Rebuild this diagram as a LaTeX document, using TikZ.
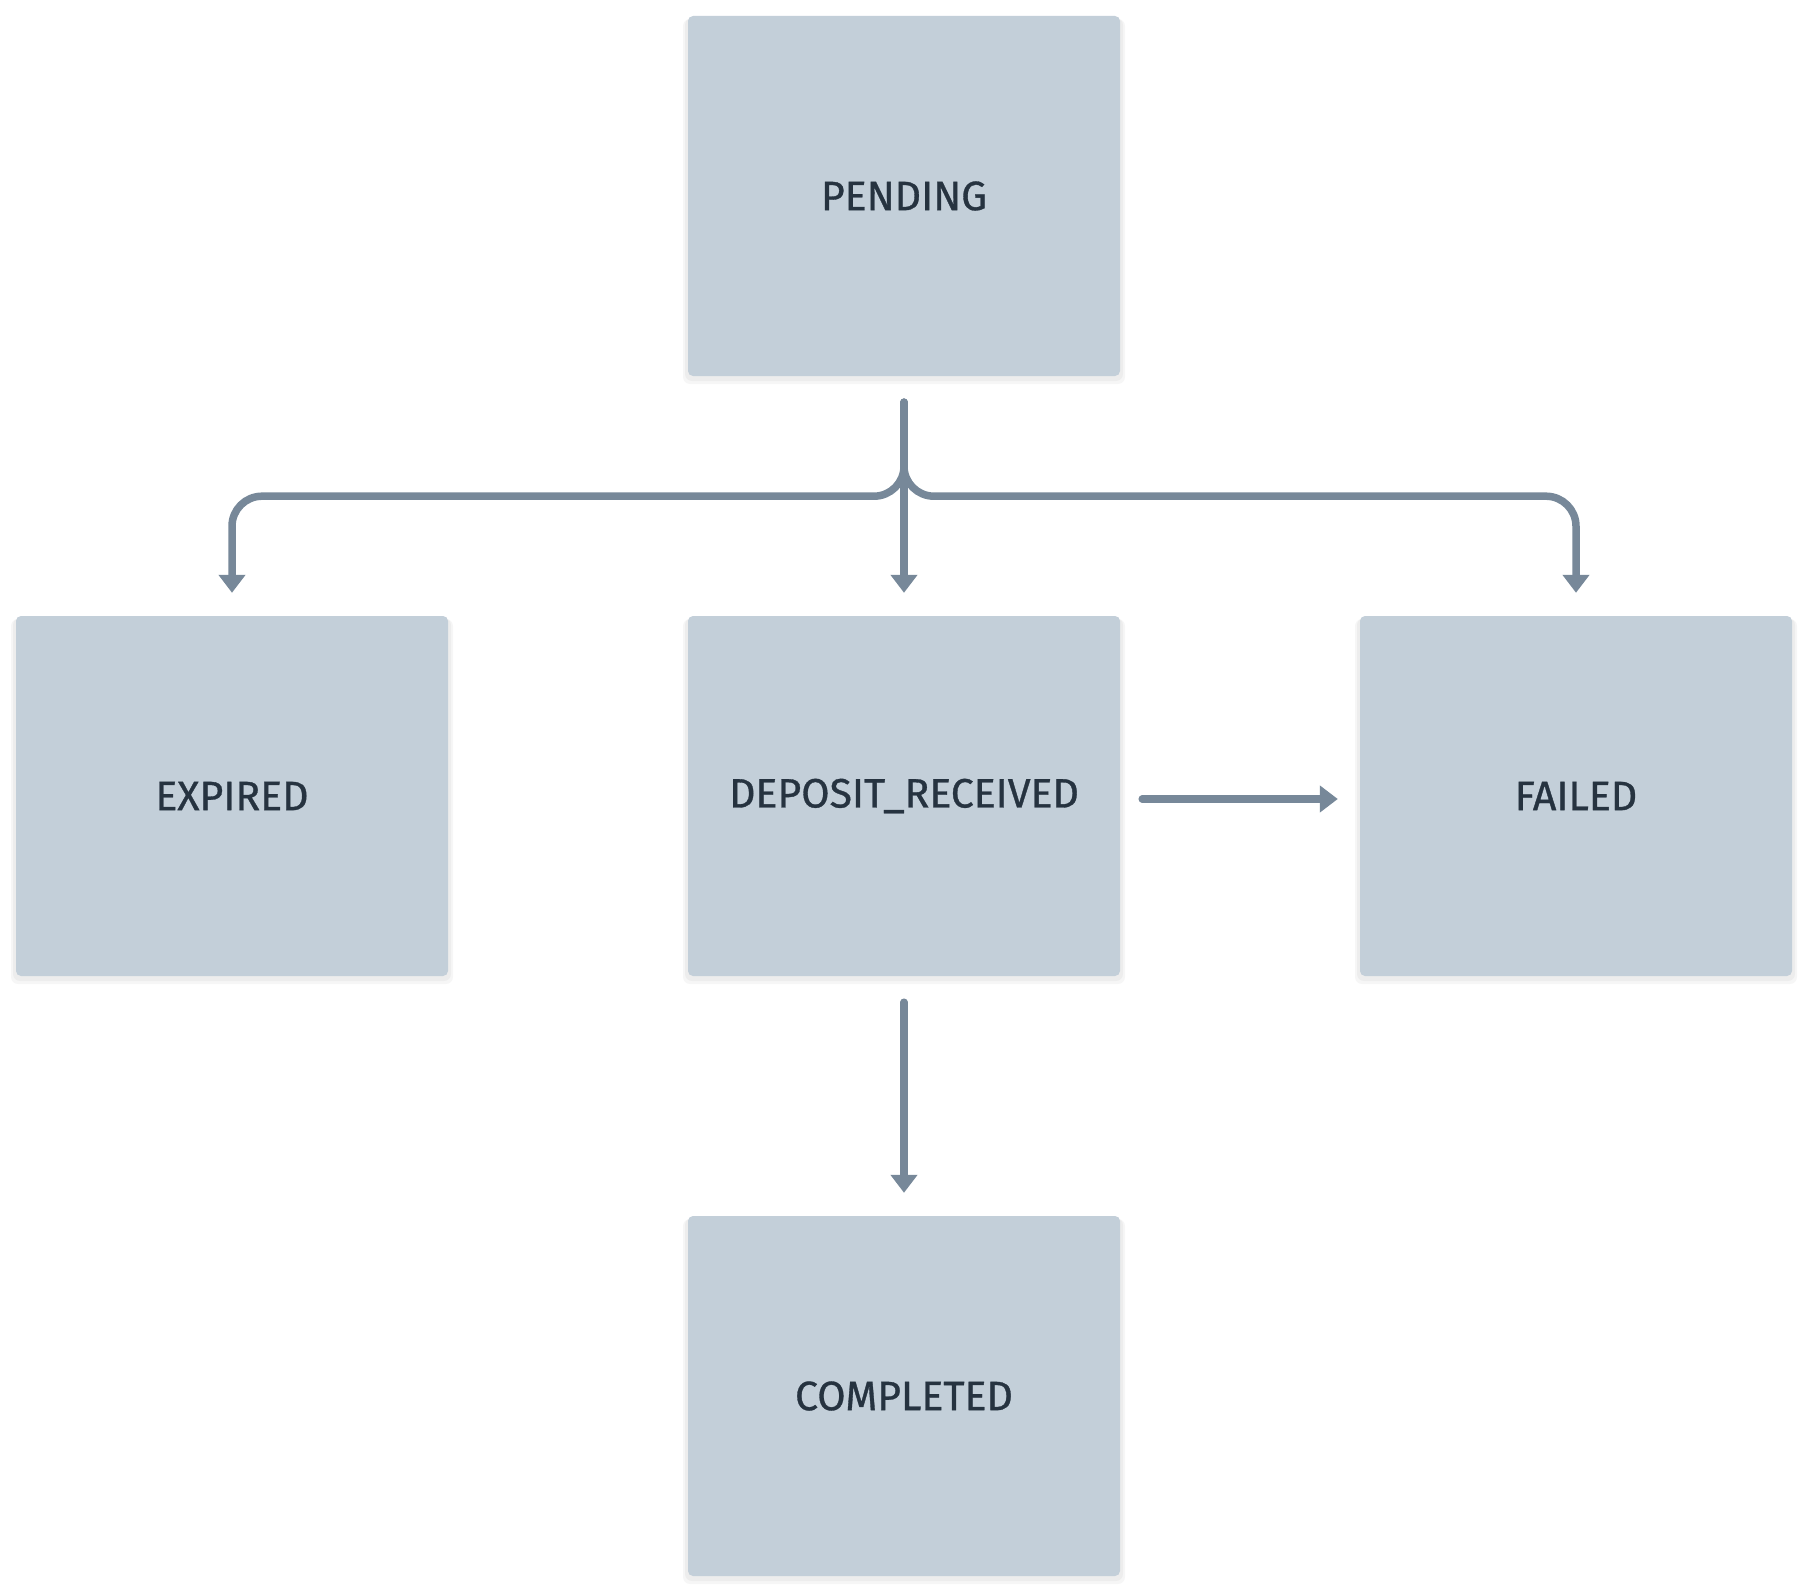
\documentclass[tikz,border=0pt]{standalone}
\usepackage{fontspec}
\setmainfont{Fira Sans}[FakeBold=0.8]
\usetikzlibrary{arrows.meta}
\definecolor{boxfill}{HTML}{C3CFD9}
\definecolor{linecol}{HTML}{778899}
\definecolor{textcol}{HTML}{263340}
\tikzset{
  state/.style={rectangle, rounded corners=5pt, fill=boxfill, draw=none,
    minimum width=432pt, minimum height=360pt, inner sep=0pt,
    text=textcol, font=\fontsize{41}{48}\selectfont},
  shade box/.style={fill=black, opacity=0.035, rounded corners=7pt},
  conn/.style={draw=linecol, line width=7.5pt, line cap=round,
    -{Triangle[length=18pt,width=26pt]},
    shorten <=26pt, shorten >=23pt},
}
\begin{document}
\begin{tikzpicture}[x=1pt,y=-1pt]
\useasboundingbox (0,0) rectangle (1808,1592);
\fill[white] (0,0) rectangle (1808,1592);
% faint shadows
\foreach \cx/\cy in {904/196, 232/796, 904/796, 1576/796, 904/1396}{
  \fill[shade box] (\cx-219,\cy-178) rectangle (\cx+219,\cy+185);
  \fill[shade box] (\cx-221,\cy-177) rectangle (\cx+221,\cy+188);
}
\node[state] (pend) at (904,196) {PENDING};
\node[state] (exp)  at (232,796) {EXPIRED};
\node[state] (dep)  at (904,796) {DEPOSIT\_RECEIVED};
\node[state] (fail) at (1576,796) {FAILED};
\node[state] (comp) at (904,1396) {COMPLETED};

\draw[conn] (pend.south) -- (dep.north);
\draw[conn, rounded corners=30pt] (pend.south) -- ++(0,120) -| (exp.north);
\draw[conn, rounded corners=30pt] (pend.south) -- ++(0,120) -| (fail.north);
\draw[conn, shorten <=22pt, shorten >=22pt] ([yshift=-3pt]dep.east) -- ([yshift=-3pt]fail.west);
\draw[conn] (dep.south) -- (comp.north);
\end{tikzpicture}
\end{document}
